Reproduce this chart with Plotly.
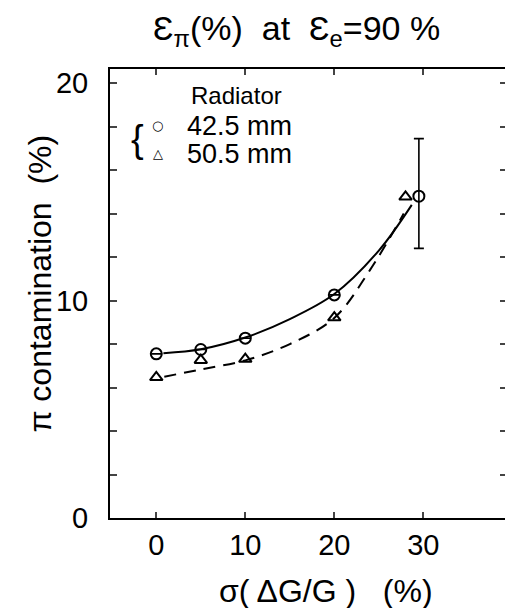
import plotly.graph_objects as go

# Data
sigma_circ = [0, 5, 10, 20, 29.5]
cont_circ = [7.55, 7.75, 8.27, 10.26, 14.8]
err_plus = [0, 0, 0, 0, 2.65]
err_minus = [0, 0, 0, 0, 2.4]

sigma_tri = [0, 5, 10, 20, 28]
cont_tri = [6.47, 7.26, 7.31, 9.22, 14.77]

# Fitted curves
fit_solid_x = [0.8, 5, 10, 15, 20, 25, 28.7]
fit_solid_y = [7.58, 7.76, 8.3, 9.15, 10.3, 12.3, 14.4]
fit_dash_x = [0.9, 5, 10, 15, 20, 24, 27.8]
fit_dash_y = [6.5, 6.83, 7.25, 8.0, 9.2, 11.4, 14.0]

yticks = list(range(0, 21, 2))
ytext = [str(v) if v % 10 == 0 else "" for v in yticks]
xticks = [0, 10, 20, 30]

FONT = "Liberation Sans Narrow, Liberation Sans, Arial, sans-serif"

fig = go.Figure()
fig.add_trace(go.Scatter(x=fit_solid_x, y=fit_solid_y, mode="lines",
                         line=dict(color="black", width=2, shape="spline", smoothing=1.0),
                         showlegend=False, hoverinfo="skip"))
fig.add_trace(go.Scatter(x=fit_dash_x, y=fit_dash_y, mode="lines",
                         line=dict(color="black", width=2, dash="12px,8px", shape="spline", smoothing=1.0),
                         showlegend=False, hoverinfo="skip"))
fig.add_trace(go.Scatter(x=sigma_circ, y=cont_circ, mode="markers",
                         marker=dict(symbol="circle-open", size=11, color="black", line=dict(width=2)),
                         error_y=dict(type="data", symmetric=False, array=err_plus, arrayminus=err_minus,
                                      color="black", thickness=1.6, width=5),
                         showlegend=False))
fig.add_trace(go.Scatter(x=sigma_tri, y=cont_tri, mode="markers",
                         marker=dict(symbol="triangle-up-open", size=11, color="black", line=dict(width=2)),
                         showlegend=False))

fig.update_xaxes(range=[-5.2, 39.4], tickvals=xticks, ticks="inside", ticklen=6, tickwidth=1.5,
                 showline=True, linewidth=2, linecolor="black", mirror="ticks",
                 showgrid=False, zeroline=False,
                 tickfont=dict(family=FONT, size=29, color="black"))
fig.update_yaxes(range=[0, 20.65], tickvals=yticks, ticktext=ytext, ticks="inside", ticklen=7, tickwidth=1.5,
                 showline=True, linewidth=2, linecolor="black", mirror="ticks",
                 showgrid=False, zeroline=False, ticklabelstandoff=14,
                 tickfont=dict(family=FONT, size=29, color="black"))


def note(text, x, y, size, family=FONT, **kw):
    fig.add_annotation(text=text, x=x, y=y, xref="paper", yref="paper", showarrow=False,
                       xanchor=kw.pop("xanchor", "center"), yanchor="middle",
                       font=dict(family=family, size=size, color="black"), **kw)


note("Ɛ<sub>π</sub>(%)  at  Ɛ<sub>e</sub>=90 %", 0.469, 1.085, 34)
note("σ( ΔG/G )   (%)", 0.544, -0.163, 32)
note("π contamination  (%)", -0.175, 0.521, 32, textangle=-90)
note("Radiator", 0.3195, 0.94, 24)
note("{", 0.07, 0.843, 38, family="Liberation Sans")
note("○", 0.12, 0.874, 13, family="DejaVu Sans")
note("△", 0.12, 0.811, 13, family="DejaVu Sans")
note("42.5 mm", 0.188, 0.872, 27, xanchor="left")
note("50.5 mm", 0.188, 0.811, 27, xanchor="left")

# page body has an 8px margin: compensate so the plot area lands at x 110-509, y 69-518
fig.update_layout(width=505, height=600, margin=dict(l=102, r=4, t=61, b=90),
                  plot_bgcolor="white", paper_bgcolor="white")
fig.write_html("out.html")
